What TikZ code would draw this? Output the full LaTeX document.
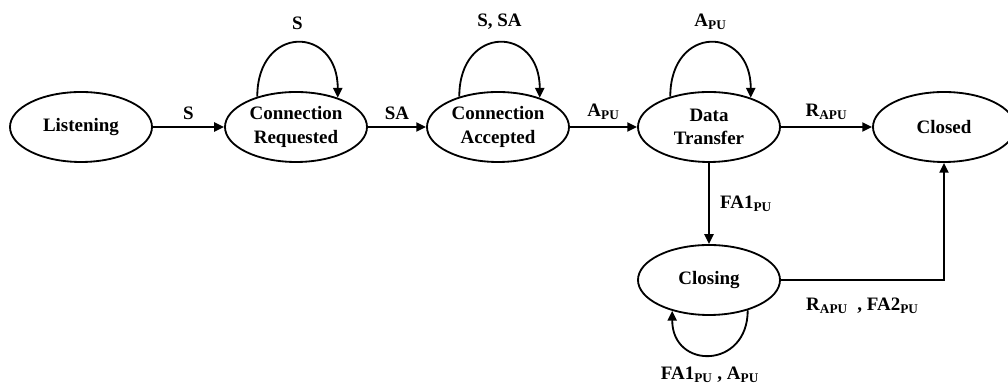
\documentclass[tikz,border=0pt]{standalone}
\usepackage{fontspec}
\setmainfont{Liberation Serif}
\usepackage{tikz}
\usetikzlibrary{shapes.geometric, arrows.meta, positioning}

\begin{document}
\begin{tikzpicture}[
    state/.style={ellipse, draw, line width=1.3pt, minimum width=3.55cm, minimum height=1.75cm,
                  inner sep=0pt, align=center, font=\fontsize{13.5}{16.5}\selectfont\bfseries},
    trans/.style={line width=1.3pt, -{Triangle[length=7pt, width=6.5pt]}},
    lbl/.style={font=\fontsize{13.5}{16.5}\selectfont\bfseries},
    selfloop/.style={trans, looseness=2.3}
]
    \useasboundingbox (0,0) rectangle (25.2,9.625);
    % States
    \node[state] (listen) at (2.025,6.45) {Listening};
    \node[state] (request) at (7.4,6.45) {Connection\\Requested};
    \node[state] (accept) at (12.45,6.45) {Connection\\Accepted};
    \node[state] (data) at (17.725,6.45) {Data\\Transfer};
    \node[state] (closed) at (23.6,6.45) {Closed};
    \node[state] (closing) at (17.725,2.625) {Closing};

    % Transitions
    \draw[trans] (listen) -- node[lbl, above=1pt] {S} (request);
    \draw[trans] (request) -- node[lbl, above=1pt] {SA} (accept);
    \draw[trans] (accept) -- node[lbl, above=1pt] {A\textsubscript{PU}} (data);
    \draw[trans] (data) -- node[lbl, above=1pt] {R\textsubscript{APU}} (closed);
    \draw[trans] (data) -- node[lbl, right=4pt] {FA1\textsubscript{PU}} (closing);
    \draw[trans] (closing.east) -| node[lbl, below=0.3cm, pos=0.25] {R\textsubscript{APU}~~, FA2\textsubscript{PU}} (closed.south);

    % Self loops
    \draw[selfloop] (request.142) to[out=90, in=90] node[lbl, above=0.2cm] {S} (request.35);
    \draw[selfloop] (accept.142) to[out=90, in=90] node[lbl, above=0.2cm] {S, SA} (accept.35);
    \draw[selfloop] (data.142) to[out=90, in=90] node[lbl, above=0.2cm] {A\textsubscript{PU}} (data.35);
    \draw[selfloop, looseness=2.0] (closing.322) to[out=-90, in=-90] node[lbl, below=0.15cm] {FA1\textsubscript{PU} , A\textsubscript{PU}} (closing.220);
\end{tikzpicture}
\end{document}
